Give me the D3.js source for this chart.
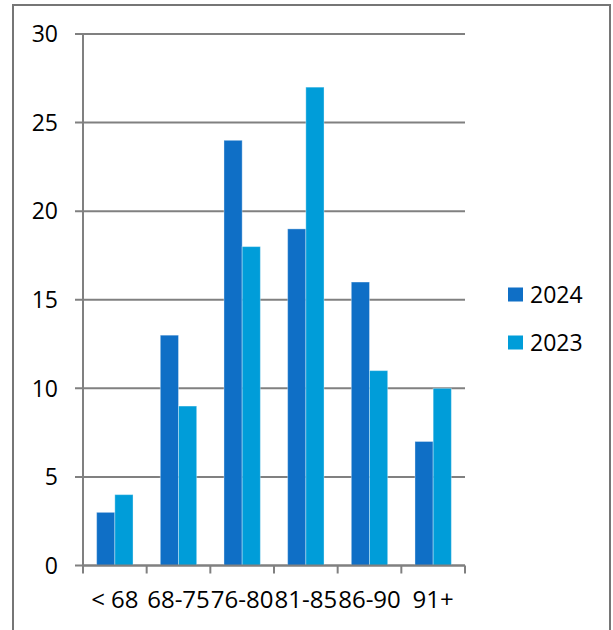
<!DOCTYPE html>
<html>
<head>
<meta charset="utf-8">
<script src="https://cdn.jsdelivr.net/npm/d3@7"></script>
<style>
  body { margin: 0; background: #fff; }
  text { font-family: "Open Sans", "Noto Sans", sans-serif; fill: #000; }
</style>
</head>
<body>
<svg id="chart" width="613" height="630"></svg>
<script>
const categories = ["< 68", "68-75", "76-80", "81-85", "86-90", "91+"];
const seriesNames = ["2024", "2023"];
const values2024 = [3, 13, 24, 19, 16, 7];
const values2023 = [4, 9, 18, 27, 11, 10];
const yTicks = [0, 5, 10, 15, 20, 25, 30];
const seriesColors = ["#0F6FC6", "#009DD9"];

const svg = d3.select("#chart");

// outer frame
svg.append("rect")
  .attr("x", 13).attr("y", 5)
  .attr("width", 597).attr("height", 630)
  .attr("fill", "none")
  .attr("stroke", "#767676")
  .attr("stroke-width", 2);

const plot = { left: 83, right: 465, top: 34, bottom: 565.5 };

const x0 = d3.scaleBand()
  .domain(categories)
  .range([plot.left, plot.right])
  .paddingInner(0)
  .paddingOuter(0);

// bars take 1/(1+gap) of the band, gap width 150%
const groupWidth = x0.bandwidth() * 2 / 3.5;
const x1 = d3.scaleBand()
  .domain(seriesNames)
  .range([0, groupWidth]);

const y = d3.scaleLinear().domain([0, 30]).range([plot.bottom, plot.top]);

// gridlines
svg.append("g").selectAll("line").data(yTicks).enter()
  .append("line")
  .attr("x1", plot.left - 8)
  .attr("x2", plot.right)
  .attr("y1", d => y(d))
  .attr("y2", d => y(d))
  .attr("stroke", "#808080")
  .attr("stroke-width", 2);

// y labels
svg.append("g").selectAll("text").data(yTicks).enter()
  .append("text")
  .attr("x", 58)
  .attr("y", d => y(d))
  .attr("dy", "0.36em")
  .attr("text-anchor", "end")
  .style("font-size", "23px")
  .text(d => d);

const rows = categories.map((c, i) => ({ cat: c, vals: [values2024[i], values2023[i]] }));

const groups = svg.append("g").selectAll("g").data(rows).enter()
  .append("g")
  .attr("transform", d => `translate(${x0(d.cat) + (x0.bandwidth() - groupWidth) / 2},0)`);

groups.selectAll("rect")
  .data(d => d.vals.map((v, j) => ({ name: seriesNames[j], v, j })))
  .enter()
  .append("rect")
  .attr("x", d => x1(d.name))
  .attr("y", d => y(d.v))
  .attr("width", x1.bandwidth())
  .attr("height", d => y(0) - y(d.v))
  .attr("fill", d => seriesColors[d.j])
  .attr("stroke", "rgba(255,255,255,0.35)")
  .attr("stroke-width", 1);

// y axis line
svg.append("line")
  .attr("x1", plot.left).attr("x2", plot.left)
  .attr("y1", plot.top).attr("y2", plot.bottom)
  .attr("stroke", "#808080")
  .attr("stroke-width", 2);

// x axis line + ticks
svg.append("line")
  .attr("x1", plot.left).attr("x2", plot.right)
  .attr("y1", plot.bottom).attr("y2", plot.bottom)
  .attr("stroke", "#808080")
  .attr("stroke-width", 2);

const tickXs = categories.map(c => x0(c)).concat([plot.right]);
svg.append("g").selectAll("line").data(tickXs).enter()
  .append("line")
  .attr("x1", d => d).attr("x2", d => d)
  .attr("y1", plot.bottom).attr("y2", plot.bottom + 8)
  .attr("stroke", "#808080")
  .attr("stroke-width", 2);

// x labels
svg.append("g").selectAll("text").data(categories).enter()
  .append("text")
  .attr("x", d => x0(d) + x0.bandwidth() / 2)
  .attr("y", 608)
  .attr("text-anchor", "middle")
  .style("font-size", "24px")
  .text(d => d);

// legend
const legend = svg.append("g").selectAll("g").data(seriesNames).enter()
  .append("g")
  .attr("transform", (d, i) => `translate(508,${294.5 + i * 48})`);

legend.append("rect")
  .attr("x", 0).attr("y", -7)
  .attr("width", 15).attr("height", 14)
  .attr("fill", (d, i) => seriesColors[i]);

legend.append("text")
  .attr("x", 22)
  .attr("dy", "0.36em")
  .style("font-size", "23px")
  .text(d => d);
</script>
</body>
</html>
